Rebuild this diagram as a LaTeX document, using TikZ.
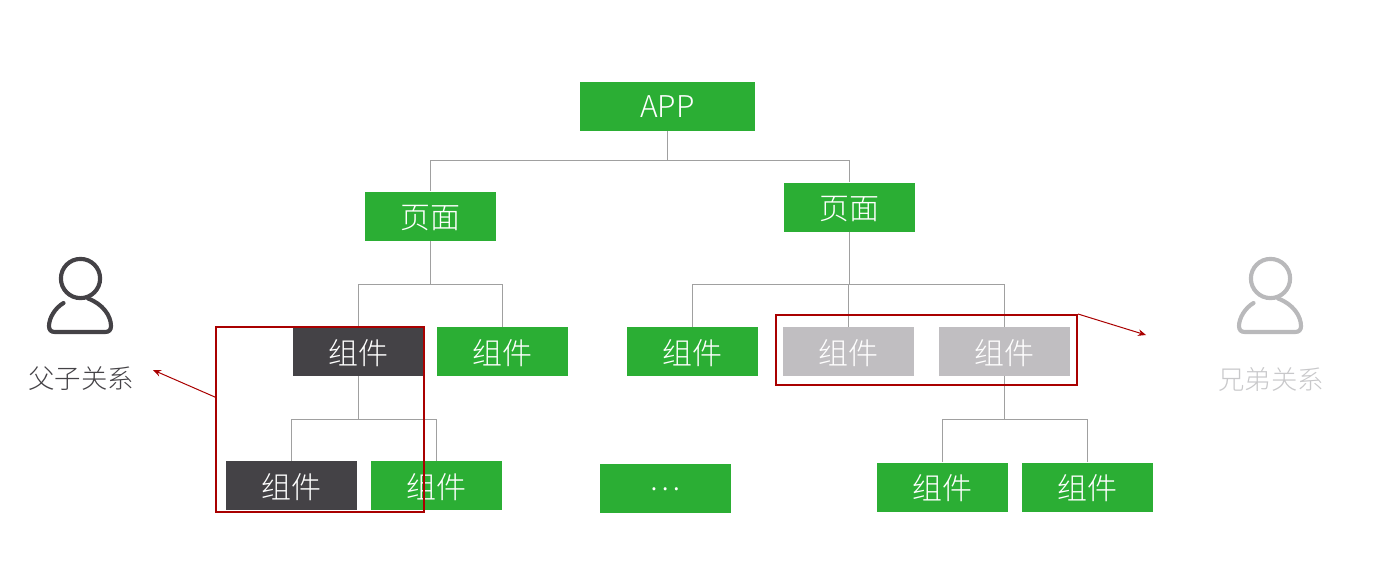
\documentclass[tikz,border=0pt]{standalone}
\usepackage{fontspec}
\setmainfont{Noto Sans CJK SC Light}
\usepackage{xcolor}
\usetikzlibrary{
	arrows.meta,
	calc
}
\definecolor{LeafGreen}{RGB}{43,174,52}
\definecolor{DarkBox}{RGB}{68,66,70}
\definecolor{PaleBox}{RGB}{192,190,193}
\definecolor{DarkRed}{RGB}{169,0,0}
\definecolor{LinkGray}{RGB}{160,160,160}
\definecolor{IconGray}{RGB}{185,185,187}
\definecolor{TextGray}{RGB}{200,200,202}
\tikzset{
	box/.style={inner sep=0pt, minimum width=98.25pt, minimum height=36.75pt, text=white, text height=20.4pt, text depth=1.5pt, font=\fontsize{22.5}{24}\selectfont},
	greenbox/.style={box, fill=LeafGreen},
	darkbox/.style={box, fill=DarkBox},
	palebox/.style={box, fill=PaleBox},
	link/.style={draw=LinkGray, line width=0.75pt},
	redframe/.style={draw=DarkRed, line width=1.5pt, inner sep=0pt},
	redarrow/.style={draw=DarkRed, line width=0.75pt, -{Stealth[length=6pt,width=5pt]}},
	rolelabel/.style={inner sep=0pt, font=\fontsize{19.8}{22}\selectfont}
}
\begin{document}
\begin{tikzpicture}[x=0.75pt, y=-0.75pt]
	\useasboundingbox (0,0) rectangle (1384,578);

	% 第一层
	\node[greenbox, minimum width=131.25pt, text height=17.2pt, text depth=0pt] (app) at (667.5,106) {APP};

	% 页面
	\node[greenbox] (pagel) at (430.5,216) {页面};
	\node[greenbox] (pager) at (849,207) {页面};

	% 组件
	\node[darkbox] (compa) at (358.5,351.5) {组件};
	\node[greenbox] (compb) at (502.5,351.5) {组件};
	\node[greenbox] (compc) at (692.5,351.5) {组件};
	\node[palebox] (compd) at (848,351.5) {组件};
	\node[palebox] (compe) at (1004,351.5) {组件};

	% 最下层
	\node[darkbox] (compf) at (291.5,485.5) {组件};
	\node[greenbox] (compg) at (436.5,485.5) {组件};
	\node[greenbox, text height=5.5pt] (more) at (665,488) {…};
	\node[greenbox] (comph) at (942.5,487) {组件};
	\node[greenbox] (compi) at (1087.5,487) {组件};

	% 连线
	\coordinate (busa) at (667.5,160);
	\coordinate (busb) at (430.5,284);
	\coordinate (busc) at (849,284);
	\coordinate (busd) at (358.5,419);
	\coordinate (buse) at (1004,419);
	\draw[link] (app.south) -- (busa);
	\draw[link] (pagel.north) |- (busa);
	\draw[link] (pager.north) |- (busa);
	\draw[link] (pagel.south) -- (busb);
	\draw[link] (compa.north) |- (busb);
	\draw[link] (compb.north) |- (busb);
	\draw[link] (pager.south) -- (busc);
	\draw[link] (compc.north) |- (busc);
	\draw[link] (compd.north) -- (compd.north |- busc);
	\draw[link] (compe.north) |- (busc);
	\draw[link] (compa.south) -- (busd);
	\draw[link] (compf.north) |- (busd);
	\draw[link] (compg.north) |- (busd);
	\draw[link] (compe.south) -- (buse);
	\draw[link] (comph.north) |- (buse);
	\draw[link] (compi.north) |- (buse);

	% 人物图标
	\foreach \dx/\col in {0/DarkBox,1190/IconGray}{
		\begin{scope}[shift={(\dx,0)}, draw=\col, line width=3.1pt, line cap=round]
			\draw (80.5,278.5) circle (14.7pt);
			\draw (63.5,303) .. controls (55,308) and (49,318) .. (49,326) .. controls (49,330) and (51,332) .. (55,332) -- (105,332) .. controls (109,332) and (111,330) .. (111,326) .. controls (111,316) and (103,304) .. (88,298.5);
		\end{scope}
	}
	\node[rolelabel, text=DarkBox] (rolea) at (81,379) {父子关系};
	\node[rolelabel, text=TextGray] (roleb) at (1271,379) {兄弟关系};

	% 红框和箭头
	\node[redframe, minimum width=156pt, minimum height=138.75pt] (framea) at (320,419.5) {};
	\node[redframe, minimum width=225.75pt, minimum height=52.5pt] (frameb) at (926.5,350) {};
	\coordinate (tipa) at (153,370);
	\coordinate (tipb) at (1146,335);
	\draw[redarrow] ($(framea.north west)!0.38!(framea.south west)$) -- (tipa);
	\draw[redarrow] (frameb.north east) -- (tipb);
\end{tikzpicture}
\end{document}
